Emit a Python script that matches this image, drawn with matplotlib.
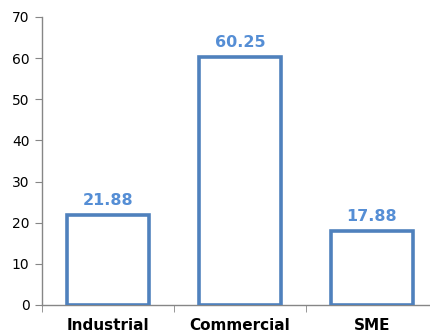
import matplotlib.pyplot as plt
import numpy as np

categories = ['Industrial', 'Commercial', 'SME']
values = [21.88, 60.25, 17.88]
yticks = [0, 10, 20, 30, 40, 50, 60, 70]

blue = '#4F81BD'
label_blue = '#558ED5'
grey = '#868686'

fig = plt.figure(figsize=(4.30, 3.36), dpi=100)
ax = fig.add_axes([42 / 430, 31 / 336, 396 / 430, 288 / 336])

x = np.arange(len(categories))
bars = ax.bar(x, values, width=0.62, color='white', edgecolor=blue,
              linewidth=2.6, zorder=3)
for b in bars:
    b.set_joinstyle('miter')

for xi, v in zip(x, values):
    ax.annotate(f'{v:.2f}', (xi, v), xytext=(0, 5), textcoords='offset points',
                ha='center', va='bottom', fontsize=11.5, fontweight='bold',
                color=label_blue)

ax.set_xlim(-0.5, len(categories) - 0.5)
ax.set_ylim(0, 70)
ax.set_yticks(yticks)
ax.set_xticks(x)
ax.set_xticklabels(categories, fontsize=11, fontweight='bold')
ax.set_xticks(np.arange(-0.5, len(categories)), minor=True)

ax.tick_params(axis='y', length=5, color=grey, labelsize=10, pad=4)
ax.tick_params(axis='x', which='major', length=0, pad=9)
ax.tick_params(axis='x', which='minor', length=5, color=grey)

for s in ['top', 'right']:
    ax.spines[s].set_visible(False)
for s in ['left', 'bottom']:
    ax.spines[s].set_color(grey)
    ax.spines[s].set_linewidth(1)

fig.savefig('out.png', dpi=100)
